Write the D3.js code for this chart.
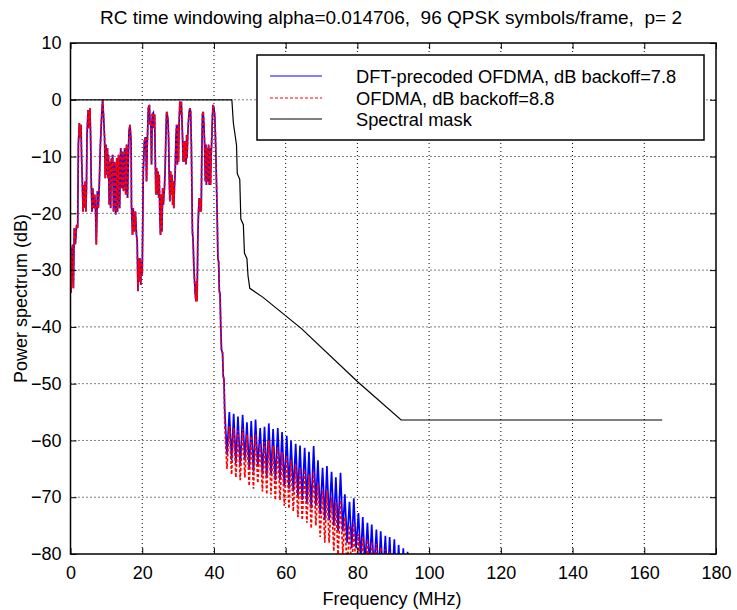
<!DOCTYPE html>
<html><head><meta charset="utf-8">
<script src="https://cdn.jsdelivr.net/npm/d3@7"></script>
<style>
body{margin:0;background:#fff;}
svg{display:block;font-family:"Liberation Sans",Arial,sans-serif;}
</style></head><body>
<svg id="chart" width="737" height="610"></svg>
<script>
// ---------- data ----------
const titleText = "RC time windowing alpha=0.014706,  96 QPSK symbols/frame,  p= 2";
const xLabelText = "Frequency (MHz)";
const yLabelText = "Power spectrum (dB)";
const xTicks = [0,20,40,60,80,100,120,140,160,180];
const yTicks = [10,0,-10,-20,-30,-40,-50,-60,-70,-80];
const legendLabels = ["DFT-precoded OFDMA, dB backoff=7.8","OFDMA, dB backoff=8.8","Spectral mask"];

// in-band part (both series nearly identical): [MHz, dB]
const inBand = [
[0.0,-26],[0.15,-34],[0.4,-27],[0.6,-25.5],[0.8,-33.2],[1.07,-22.6],[1.35,-25.5],[1.72,-22],[2.0,-22.6],
[2.2,-7.9],[2.46,-4.1],[2.65,-6.7],[2.93,-4.4],[3.1,-10.3],[3.3,-14.4],[3.5,-19.7],[3.7,-15],[3.9,-19],
[4.1,-14.4],[4.3,-19.7],[4.45,-15.6],[4.6,-6.2],[4.9,-1.8],[5.2,-5],[5.43,-1.5],[5.6,-6.2],[5.8,-15],
[6.0,-19.7],[6.2,-15.6],[6.5,-19.1],[6.74,-16.7],[7.0,-19.7],[7.2,-25.5],[7.5,-16.1],[7.75,-19.1],[8.0,-15.6],
[8.3,-8.5],[8.7,-2.6],[8.96,0],[9.2,-2.6],[9.5,-6.7],[9.7,-13.8],[9.9,-7.9],[10.1,-13.2],[10.3,-8.5],
[10.45,-13.8],[10.6,-9.7],[10.8,-18.5],[11.0,-10.9],[11.2,-19.1],[11.4,-10.3],[11.6,-13.8],[11.75,-9.7],
[12.0,-19.7],[12.3,-10.9],[12.6,-20.2],[12.9,-10.3],[13.1,-19.7],[13.4,-9.7],[13.7,-19.1],[14.0,-8.5],
[14.3,-15.6],[14.5,-9.1],[14.8,-16.1],[15.1,-8.5],[15.4,-16.7],[15.65,-7.9],[15.9,-17.3],[16.3,-5.6],
[16.6,-4.4],[16.9,-7.3],[17.0,-18.5],[17.3,-23.8],[17.5,-19.1],[17.8,-23.2],[18.1,-19.7],[18.4,-23.8],
[18.6,-25],[18.8,-33.7],[19.0,-27.9],[19.2,-32],[19.4,-27.9],[19.6,-32.6],[19.7,-28.5],[20.0,-30.8],
[20.3,-12.6],[20.6,-7.3],[20.85,-6.7],[21.0,-6.7],[21.2,-14.4],[21.4,-8],[21.7,-1.5],[22.0,-0.9],[22.2,-4.4],
[22.4,-3.8],[22.6,-11.4],[22.8,-2.6],[23.1,-2.3],[23.3,-5],[23.45,-2.6],[23.6,-8.5],[23.8,-16.7],[24.0,-12],
[24.2,-16.7],[24.4,-12.6],[24.6,-17.3],[24.75,-13.2],[24.9,-20.2],[25.1,-23.8],[25.3,-16.7],[25.5,-23.2],
[25.7,-15.6],[25.9,-18.5],[26.05,-16.7],[26.2,-15.6],[26.4,-12],[26.6,-6.2],[26.8,-2.1],[27.0,-2.6],
[27.2,-3.8],[27.35,-6.7],[27.5,-12.6],[27.7,-17.9],[27.9,-12.6],[28.1,-16.7],[28.3,-13.2],[28.5,-18.5],
[28.65,-14.4],[28.8,-19.1],[29.0,-15],[29.2,-12.6],[29.4,-6.7],[29.6,-4.4],[29.8,-11.4],[30.0,-4.4],
[30.1,-10.9],[30.3,-3.8],[30.5,-0.3],[30.7,-2.6],[30.9,-0.3],[31.1,-3.8],[31.25,-6.7],[31.4,-10.9],
[31.6,-7.3],[31.8,-10.9],[32.0,-7.3],[32.2,-11.4],[32.4,-6.2],[32.5,-10.3],[32.7,-6.2],[32.9,-3.8],
[33.1,-2.1],[33.3,-1.5],[33.5,-2.1],[33.7,-7.9],[33.85,-15.6],[34.0,-23.2],[34.2,-25],[34.4,-29.6],
[34.6,-32],[34.8,-34.3],[35.0,-35.5],[35.2,-32],[35.3,-35.5],[35.5,-24.4],[35.7,-19.7],[35.9,-17.3],
[36.1,-19.7],[36.3,-17.3],[36.45,-19.7],[36.6,-10.3],[36.8,-2.6],[37.0,-2.1],[37.2,-4.4],[37.4,-7.9],
[37.6,-14.4],[37.75,-7.9],[37.9,-15],[38.1,-8.5],[38.3,-14.4],[38.5,-7.9],[38.7,-15],[38.9,-8.5],
[39.05,-15],[39.2,-10.3],[39.4,-6.7],[39.6,-2.6],[39.8,-0.9],[40.0,-1.5],[40.2,-2.6],[40.35,-5],
[40.5,-8.5],[40.7,-14.4],[40.9,-20.2],[41.1,-27.9],[41.3,-28.5],[41.5,-33.7],[41.7,-34.3],[41.9,-39.9],
[42.1,-44],[42.4,-44.6],[42.6,-48.7],[42.8,-49.3]
];

// out-of-band comb: spike frequencies and peak / trough levels (dB)
const spikeF = [43.0,44.3,45.5,46.7,48.0,49.2,50.4,51.6,52.9,54.1,55.3,56.5,57.8,59.0,60.3,61.5,62.8,64.0,65.3,66.5,67.8,69.0,70.3,71.5,72.8,74.0,75.3,76.5,77.8,79.0,80.3,81.5,82.8,84.0,85.3,86.5,87.8,89.0,90.3,91.5,92.8,94.0,95.0];
const bluePeak = [-54.5,-55.0,-55.3,-55.8,-55.5,-56.8,-56.6,-56.3,-57.8,-57.6,-57.0,-58.0,-57.8,-58.5,-59.2,-60.0,-60.6,-60.9,-61.3,-62.0,-61.0,-63.5,-64.8,-64.5,-65.5,-66.5,-65.7,-69.5,-70.8,-70.2,-72.8,-73.5,-74.5,-74.8,-75.7,-76.0,-76.8,-77.0,-77.4,-78.4,-79.0,-79.6,-80.5];
const blueTrough = [-62.5,-63.5,-64,-64.5,-63.5,-65,-65.5,-64.5,-66,-66.5,-66,-67,-67,-68,-68.5,-69,-70,-70.5,-71,-72,-71.5,-73,-74,-74,-75,-76,-76,-78,-79,-79,-81,-82,-82,-83,-84,-84,-85,-85,-86,-86,-87,-88,-88];
const redPeak = [-57.0,-57.5,-57.8,-58.3,-58.0,-59.0,-59.2,-59.0,-60.5,-60.3,-60.0,-61.0,-61.2,-62.0,-62.8,-63.5,-64.3,-64.8,-65.2,-66.0,-65.5,-67.5,-68.8,-68.8,-70.0,-71.0,-70.5,-73.5,-75.0,-74.5,-76.5,-77.0,-77.5,-77.8,-78.2,-78.8,-79.2,-79.6,-81,-82,-83,-84,-85];
const redTrough = [-65,-66,-66.5,-67,-66.5,-68,-68.5,-67.5,-69,-69.5,-69.5,-70.5,-70.5,-71.5,-72,-72.5,-73.5,-74,-74.5,-75.5,-75,-77,-78,-78,-79.5,-80.5,-80,-83,-84,-84,-85,-86,-86,-87,-88,-88,-89,-89,-90,-90,-91,-92,-92];

// spectral mask
const maskF  = [0,45,45.4,46.3,46.5,47.2,47.5,48.2,48.5,49.2,49.5,50,53.7,64.4,80.3,92.2,165];
const maskDb = [0,0,-4,-8,-13,-14,-21,-22,-27,-28,-31,-33.2,-34.8,-40.3,-49.8,-56.4,-56.4];

// ---------- drawing ----------
const svg = d3.select("#chart");
const L = 70.5, R = 716, T = 43, B = 554;
const FS = 18;
const x = d3.scaleLinear().domain([0,180]).range([L,R]);
const y = d3.scaleLinear().domain([-80,10]).range([B,T]);

svg.append("defs").append("clipPath").attr("id","clip")
  .append("rect").attr("x",L).attr("y",T).attr("width",R-L).attr("height",B-T);

// grid
const grid = svg.append("g").attr("stroke","#000").attr("stroke-width",1).attr("stroke-dasharray","1,3");
xTicks.slice(1,-1).forEach(t=>grid.append("line").attr("x1",x(t)).attr("x2",x(t)).attr("y1",T).attr("y2",B));
yTicks.slice(1,-1).forEach(t=>grid.append("line").attr("y1",y(t)).attr("y2",y(t)).attr("x1",L).attr("x2",R));

// series paths
function comb(peaks, troughs){
  const pts = inBand.slice();
  spikeF.forEach((f,i)=>{ pts.push([f,peaks[i]]); pts.push([f+0.62,troughs[i]]); });
  return pts;
}
const line = d3.line().x(d=>x(d[0])).y(d=>y(d[1]));
const plot = svg.append("g").attr("clip-path","url(#clip)");
plot.append("path").datum(comb(bluePeak,blueTrough)).attr("d",line)
  .attr("fill","none").attr("stroke","#0000ff").attr("stroke-width",1.7);
plot.append("path").datum(comb(redPeak,redTrough)).attr("d",line)
  .attr("fill","none").attr("stroke","#ff0000").attr("stroke-width",1.7).attr("stroke-dasharray","3,2");
plot.append("path").datum(maskF.map((f,i)=>[f,maskDb[i]])).attr("d",line)
  .attr("fill","none").attr("stroke","#000").attr("stroke-width",1.2);

// axes (MATLAB style: inward ticks on all sides, box)
const ax = svg.append("g");
ax.append("g").attr("transform",`translate(0,${B})`)
  .call(d3.axisBottom(x).tickValues(xTicks).tickSizeInner(-6).tickSizeOuter(0).tickPadding(12));
ax.append("g").attr("transform",`translate(0,${T})`)
  .call(d3.axisTop(x).tickValues(xTicks).tickSizeInner(-6).tickSizeOuter(0).tickFormat(""));
ax.append("g").attr("transform",`translate(${L},0)`)
  .call(d3.axisLeft(y).tickValues(yTicks).tickSizeInner(-6).tickSizeOuter(0).tickPadding(9));
ax.append("g").attr("transform",`translate(${R},0)`)
  .call(d3.axisRight(y).tickValues(yTicks).tickSizeInner(-6).tickSizeOuter(0).tickFormat(""));
ax.selectAll(".domain").remove();
ax.selectAll("line").attr("stroke","#000");
ax.selectAll("text").attr("font-size",FS).attr("fill","#000").attr("font-family","Liberation Sans, Arial, sans-serif");
svg.append("rect").attr("x",L).attr("y",T).attr("width",R-L).attr("height",B-T)
  .attr("fill","none").attr("stroke","#000").attr("stroke-width",1.5);

// labels
svg.append("text").attr("x",391).attr("y",24).attr("text-anchor","middle")
  .attr("font-size",19).style("white-space","pre").text(titleText);
svg.append("text").attr("x",392).attr("y",605).attr("text-anchor","middle")
  .attr("font-size",FS).text(xLabelText);
svg.append("text").attr("transform",`translate(27,${(T+B)/2}) rotate(-90)`).attr("text-anchor","middle")
  .attr("font-size",FS).text(yLabelText);

// legend
const lg = svg.append("g");
lg.append("rect").attr("x",257).attr("y",55).attr("width",447).attr("height",85)
  .attr("fill","#fff").attr("stroke","#000").attr("stroke-width",1.5);
const lstyles = [{c:"#0000ff",d:null},{c:"#ff0000",d:"3,2"},{c:"#000",d:null}];
const ly = [76,98,119];
legendLabels.forEach((t,i)=>{
  lg.append("line").attr("x1",270).attr("x2",322).attr("y1",ly[i]).attr("y2",ly[i])
    .attr("stroke",lstyles[i].c).attr("stroke-width",1.2).attr("stroke-dasharray",lstyles[i].d);
  lg.append("text").attr("x",356).attr("y",ly[i]+6.5).attr("font-size",18.3).text(t);
});
</script>
</body></html>
